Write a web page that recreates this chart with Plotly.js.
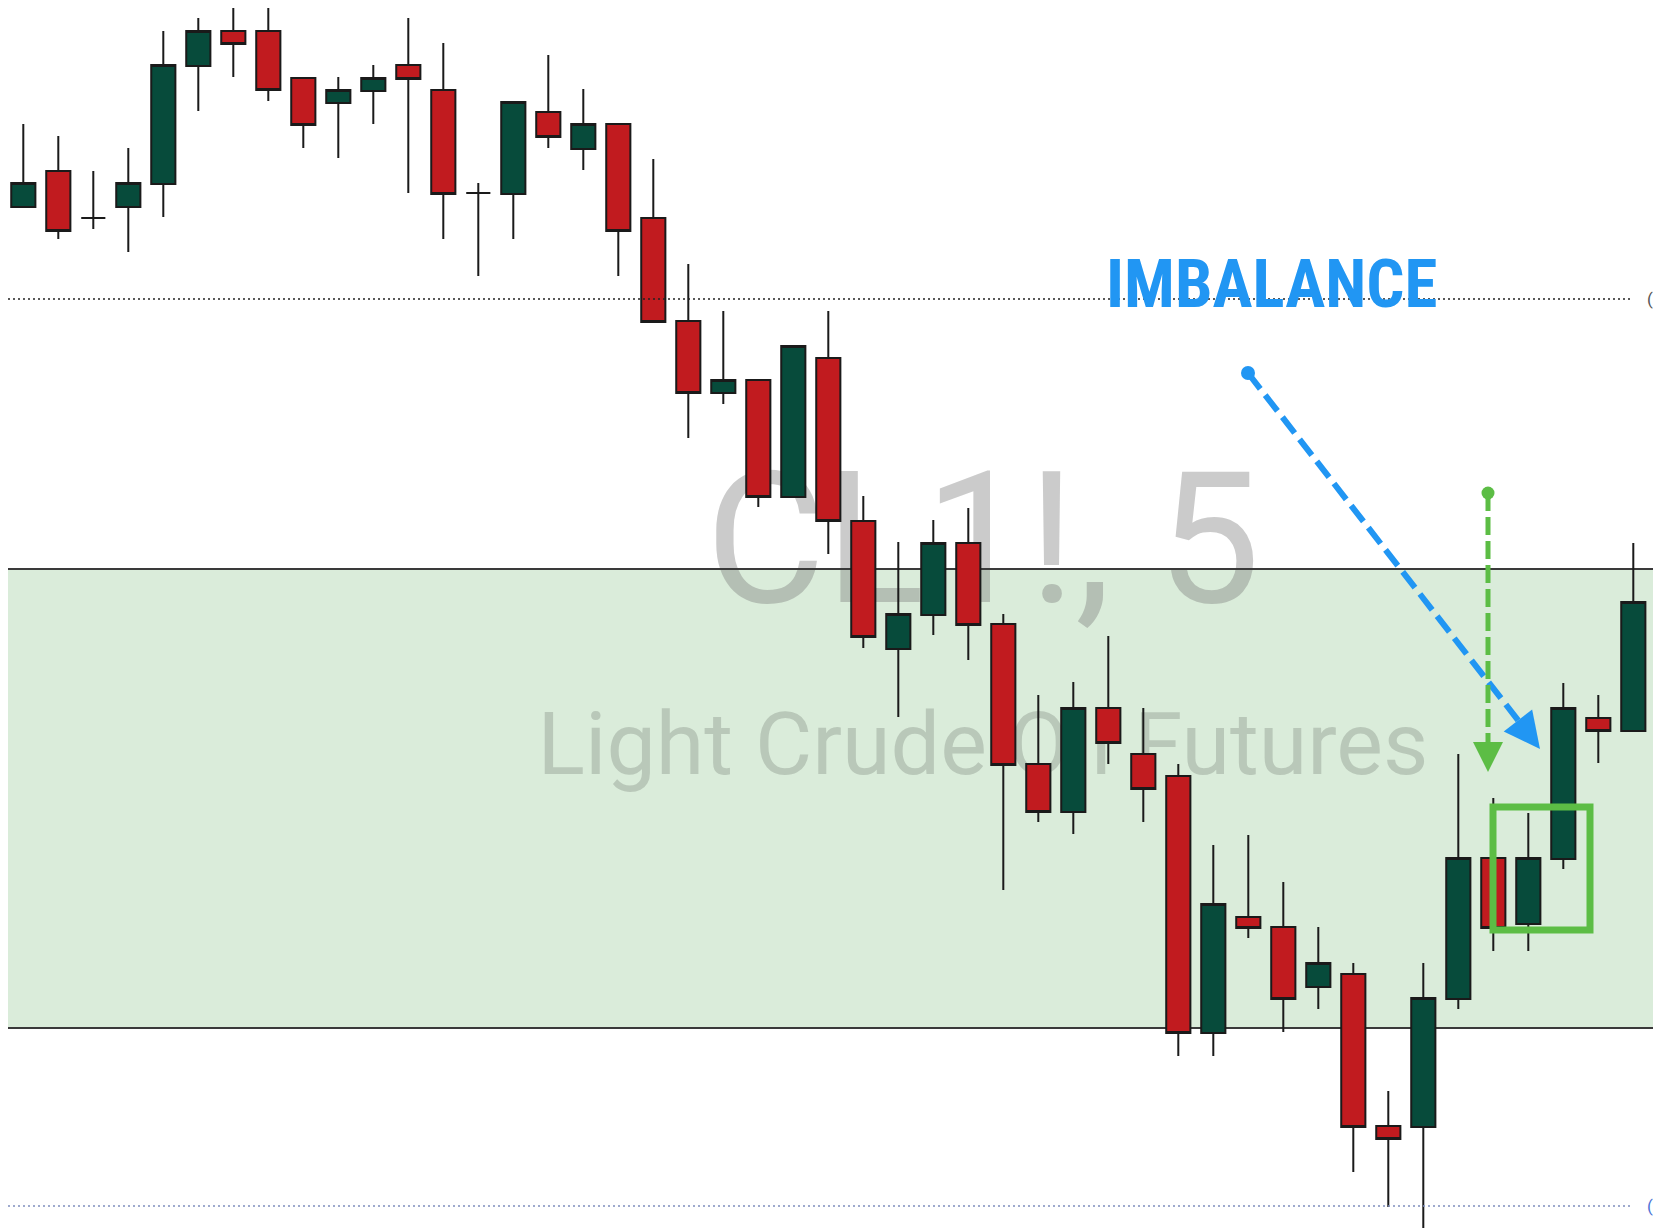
<!DOCTYPE html>
<html>
<head>
<meta charset="utf-8">
<script src="https://cdn.plot.ly/plotly-3.0.1.min.js"></script>
<style>
html,body{margin:0;padding:0;background:#ffffff;overflow:hidden}
#chart{width:1658px;height:1231px}
</style>
</head>
<body>
<div id="chart"></div>
<script>
// ---------------- data ----------------
const times = ['09:00','09:05','09:10','09:15','09:20','09:25','09:30','09:35','09:40','09:45','09:50','09:55',
               '10:00','10:05','10:10','10:15','10:20','10:25','10:30','10:35','10:40','10:45','10:50','10:55',
               '11:00','11:05','11:10','11:15','11:20','11:25','11:30','11:35','11:40','11:45','11:50','11:55',
               '12:00','12:05','12:10','12:15','12:20','12:25','12:30','12:35','12:40','12:45','12:50'];
const openPrices  = [72.793,72.829,72.782,72.793,72.816,72.934,72.969,72.969,72.922,72.897,72.909,72.935,72.910,72.807,72.806,72.888,72.851,72.876,72.782,72.679,72.607,72.620,72.503,72.642,72.479,72.351,72.385,72.457,72.376,72.236,72.188,72.292,72.246,72.224,71.967,72.083,72.073,72.013,72.026,71.874,71.873,72.001,72.142,72.076,72.141,72.282,72.269];
const highPrices  = [72.876,72.864,72.829,72.852,72.969,72.982,72.992,72.992,72.922,72.923,72.935,72.982,72.957,72.817,72.898,72.945,72.911,72.876,72.841,72.736,72.689,72.620,72.654,72.689,72.504,72.458,72.480,72.492,72.386,72.305,72.318,72.364,72.292,72.236,72.155,72.165,72.118,72.073,72.037,71.909,72.037,72.246,72.202,72.187,72.317,72.305,72.457];
const lowPrices   = [72.793,72.761,72.771,72.748,72.783,72.889,72.923,72.899,72.852,72.842,72.876,72.807,72.761,72.724,72.761,72.852,72.830,72.724,72.678,72.562,72.596,72.493,72.503,72.446,72.352,72.283,72.365,72.340,72.110,72.178,72.166,72.236,72.178,71.944,71.944,72.062,71.968,71.991,71.828,71.793,71.772,71.991,72.049,72.049,72.131,72.237,72.269];
const closePrices = [72.817,72.769,72.782,72.817,72.935,72.969,72.956,72.910,72.875,72.910,72.922,72.921,72.806,72.807,72.898,72.863,72.876,72.769,72.678,72.607,72.620,72.503,72.654,72.479,72.363,72.386,72.457,72.375,72.235,72.188,72.292,72.257,72.211,71.967,72.096,72.072,72.001,72.037,71.873,71.861,72.002,72.142,72.072,72.142,72.292,72.269,72.398];

const symbolText = 'CL1!, 5';
const descriptionText = 'Light Crude Oil Futures';
const imbalanceText = 'IMBALANCE';
const zoneTop = 72.431;
const zoneBottom = 71.972;
const levelUpper = 72.701;
const levelLower = 71.794;

// ---------------- layout helpers ----------------
const W = 1658, H = 1231;
const Y_TOP = 73.000, Y_BOT = 71.769;
const X_FIRST = 23.3, X_STEP = 35;
const xRange = [-X_FIRST / X_STEP, (W - X_FIRST) / X_STEP];
const px2x = px => (px - X_FIRST) / X_STEP;
const py2y = py => Y_TOP - (Y_TOP - Y_BOT) * py / H;

const BLUE = '#2196f3';
const GREEN = '#5cbd45';

const data = [
  { // watermark (drawn underneath candles)
    type: 'scatter', mode: 'text', xaxis: 'x', yaxis: 'y',
    x: [px2x(983)], y: [py2y(556)], text: [symbolText],
    textposition: 'middle center', hoverinfo: 'skip',
    textfont: {family: 'Roboto, "Open Sans", sans-serif', size: 184, color: 'rgba(118,118,118,0.38)'}
  },
  {
    type: 'scatter', mode: 'text', xaxis: 'x', yaxis: 'y',
    x: [px2x(983)], y: [py2y(752)], text: [descriptionText],
    textposition: 'middle center', hoverinfo: 'skip',
    textfont: {family: 'Roboto, "Open Sans", sans-serif', size: 88, color: 'rgba(118,128,118,0.33)'}
  },
  { // zone borders
    type: 'scatter', mode: 'lines', xaxis: 'x', yaxis: 'y', hoverinfo: 'skip',
    x: [px2x(8), px2x(1653)], y: [zoneTop, zoneTop],
    line: {color: '#3a3a3a', width: 2}
  },
  {
    type: 'scatter', mode: 'lines', xaxis: 'x', yaxis: 'y', hoverinfo: 'skip',
    x: [px2x(8), px2x(1653)], y: [zoneBottom, zoneBottom],
    line: {color: '#3a3a3a', width: 2}
  },
  {
    type: 'candlestick', xaxis: 'x2', yaxis: 'y2',
    x: times, open: openPrices, high: highPrices, low: lowPrices, close: closePrices,
    increasing: {line: {color: '#1a1a1a', width: 2}, fillcolor: '#074b3b'},
    decreasing: {line: {color: '#1a1a1a', width: 2}, fillcolor: '#c11b1f'},
    hoverinfo: 'none'
  }
];

const shapes = [
  { // demand / supply zone
    type: 'rect', xref: 'paper', yref: 'y', x0: 8 / W, x1: 1653 / W,
    y0: zoneBottom, y1: zoneTop, fillcolor: '#daecda', line: {width: 0}, layer: 'below'
  },
  { // dotted price levels
    type: 'line', xref: 'paper', yref: 'y', x0: 8 / W, x1: 1633 / W, y0: levelUpper, y1: levelUpper,
    line: {color: '#222222', width: 1.6, dash: '2px,3px'}, layer: 'above'
  },
  {
    type: 'line', xref: 'paper', yref: 'y', x0: 8 / W, x1: 1633 / W, y0: levelLower, y1: levelLower,
    line: {color: '#7f8fbf', width: 1.6, dash: '2px,3px'}, layer: 'above'
  },
  { // imbalance box
    type: 'rect', xref: 'x', yref: 'y', x0: px2x(1493), x1: px2x(1590), y0: py2y(807), y1: py2y(930),
    line: {color: GREEN, width: 7}, fillcolor: 'rgba(0,0,0,0)', layer: 'above'
  },
  { // blue dashed arrow shaft
    type: 'line', xref: 'x', yref: 'y', x0: px2x(1248), y0: py2y(373), x1: px2x(1528), y1: py2y(733),
    line: {color: BLUE, width: 6, dash: '20px,8px'}, layer: 'above'
  },
  {
    type: 'circle', xref: 'x', yref: 'y', xsizemode: 'pixel', ysizemode: 'pixel',
    xanchor: px2x(1248), yanchor: py2y(373), x0: -7, x1: 7, y0: -7, y1: 7,
    fillcolor: BLUE, line: {width: 0}, layer: 'above'
  },
  { // green dashed arrow shaft
    type: 'line', xref: 'x', yref: 'y', x0: px2x(1488), y0: py2y(493), x1: px2x(1488), y1: py2y(756),
    line: {color: GREEN, width: 5, dash: '18px,6px'}, layer: 'above'
  },
  {
    type: 'circle', xref: 'x', yref: 'y', xsizemode: 'pixel', ysizemode: 'pixel',
    xanchor: px2x(1488), yanchor: py2y(493), x0: -6.5, x1: 6.5, y0: -6.5, y1: 6.5,
    fillcolor: GREEN, line: {width: 0}, layer: 'above'
  }
];

const annotations = [
  {
    text: imbalanceText, xref: 'x', yref: 'y', x: px2x(1271), y: py2y(284),
    xanchor: 'center', yanchor: 'middle', showarrow: false,
    font: {family: '"Liberation Sans Narrow", "Arial Narrow", "Roboto Condensed", Roboto, sans-serif', size: 67, weight: 'bold', color: BLUE}
  },
  { // blue arrow head
    text: '', xref: 'x', yref: 'y', x: px2x(1540), y: py2y(749),
    showarrow: true, arrowhead: 2, arrowsize: 1.2, arrowwidth: 6, arrowcolor: BLUE,
    ax: -0.613 * 20, ay: -0.790 * 20, standoff: 0
  },
  { // green arrow head
    text: '', xref: 'x', yref: 'y', x: px2x(1488), y: py2y(772),
    showarrow: true, arrowhead: 2, arrowsize: 1.2, arrowwidth: 5, arrowcolor: GREEN,
    ax: 0, ay: -20, standoff: 0
  },
  { // clipped price labels on the right edge
    text: '(', xref: 'paper', yref: 'y', x: 1645 / W, y: levelUpper, xanchor: 'left', yanchor: 'middle',
    showarrow: false, font: {family: 'Roboto, sans-serif', size: 17, color: '#555555'}
  },
  {
    text: '(', xref: 'paper', yref: 'y', x: 1645 / W, y: levelLower, xanchor: 'left', yanchor: 'middle',
    showarrow: false, font: {family: 'Roboto, sans-serif', size: 17, color: '#4d73d6'}
  }
];

const layout = {
  width: W, height: H,
  margin: {l: 0, r: 0, t: 0, b: 0, pad: 0},
  paper_bgcolor: '#ffffff', plot_bgcolor: '#ffffff',
  showlegend: false,
  boxgap: 0.31, boxgroupgap: 0,
  xaxis: {range: xRange, visible: false, fixedrange: true},
  yaxis: {range: [Y_BOT, Y_TOP], visible: false, fixedrange: true},
  xaxis2: {overlaying: 'x', type: 'category', range: xRange, visible: false, fixedrange: true, rangeslider: {visible: false}},
  yaxis2: {overlaying: 'y', range: [Y_BOT, Y_TOP], visible: false, fixedrange: true},
  shapes: shapes,
  annotations: annotations
};

Plotly.newPlot('chart', data, layout, {staticPlot: true, displayModeBar: false});
</script>
</body>
</html>
